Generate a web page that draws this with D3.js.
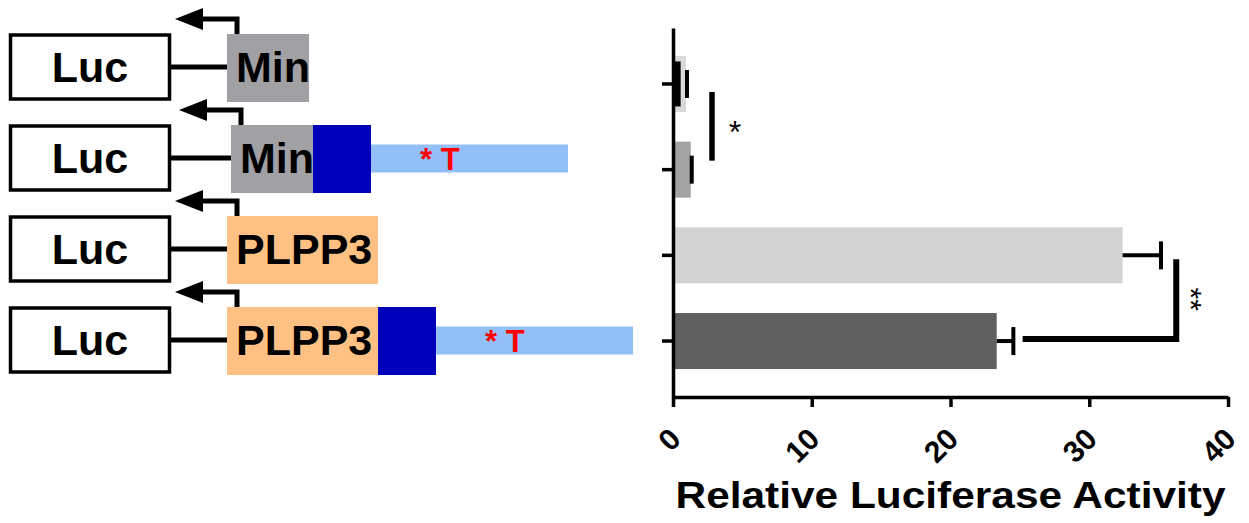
<!DOCTYPE html>
<html>
<head>
  <title>Relative Luciferase Activity</title>
  <script src="https://d3js.org/d3.v7.min.js"></script>
  <style>
    body { margin: 0; background: #fff; }
    text { font-family: "Liberation Sans", Arial, sans-serif; font-weight: bold; }
  </style>
</head>
<body>
<div id="chart"></div>
<script>
  // constructs, top to bottom
  const constructs = ["Min", "Min + element", "PLPP3", "PLPP3 + element"];
  const promoters = ["Min", "Min", "PLPP3", "PLPP3"];
  const hasElement = [false, true, false, true];
  const elementLabel = "* T";

  // relative luciferase activity (mean, upper error)
  const activity = [0.94, 1.28, 32.4, 23.33];
  const activityErr = [0.07, 0.07, 2.77, 1.2];
  const innerBar = [0.55, 0, 0, 0];
  const barColors = ["#d9d9d9", "#a3a3a3", "#d3d3d3", "#606060"];

  const xTicks = [0, 10, 20, 30, 40];

  // significance: pair of rows, x position, bracket start, stars
  const sigPairs = [[0, 1], [2, 3]];
  const sigX = [2.81, 36.27];
  const sigFrom = [null, 25.2];
  const sigStars = ["*", "**"];

  const width = 1249;
  const height = 523;
  const svg = d3.select("#chart")
          .append("svg")
          .attr("width", width)
          .attr("height", height);

  svg.append("rect").attr("width", width).attr("height", height).attr("fill", "#fff");

  // ---------- construct diagrams ----------
  const rowY = d3.scalePoint().domain(constructs).range([67, 340]);
  const promoterColor = { "Min": "#a1a1a5", "PLPP3": "#ffc183" };
  const promoterWidth = { "Min": 82, "PLPP3": 151 };

  const rows = svg.append("g").selectAll("g")
          .data(constructs)
          .join("g");

  rows.each(function (c, i) {
    const g = d3.select(this);
    const cy = rowY(c);
    const px = 227 + (i === 1 ? 4 : 0);
    const pw = promoterWidth[promoters[i]];

    g.append("line")
            .attr("x1", 170).attr("x2", px)
            .attr("y1", cy).attr("y2", cy)
            .attr("stroke", "#000").attr("stroke-width", 5);

    g.append("rect")
            .attr("x", 10.5).attr("y", cy - 32)
            .attr("width", 159).attr("height", 64)
            .attr("fill", "#fff").attr("stroke", "#000").attr("stroke-width", 3.5);

    g.append("text")
            .attr("x", 90).attr("y", cy + 14.5)
            .attr("text-anchor", "middle")
            .style("font-size", "43px")
            .text("Luc");

    // transcription start arrow
    g.append("path")
            .attr("d", `M${px + 10},${cy - 33}V${cy - 48}H${px - 26}`)
            .attr("fill", "none").attr("stroke", "#000").attr("stroke-width", 5);
    g.append("path")
            .attr("d", `M${px - 52},${cy - 48}L${px - 24},${cy - 59}L${px - 24},${cy - 37}Z`)
            .attr("fill", "#000");

    g.append("rect")
            .attr("x", px).attr("y", cy - 33)
            .attr("width", pw).attr("height", 68)
            .attr("fill", promoterColor[promoters[i]]);

    g.append("text")
            .attr("x", px + 9).attr("y", cy + 14.5)
            .style("font-size", "43px")
            .text(promoters[i]);

    if (hasElement[i]) {
      g.append("rect")
              .attr("x", px + pw).attr("y", cy - 33)
              .attr("width", 58).attr("height", 68)
              .attr("fill", "#0000bb");
      g.append("rect")
              .attr("x", px + pw + 58).attr("y", cy - 13.5)
              .attr("width", 197).attr("height", 28)
              .attr("fill", "#92bff7");
      g.append("text")
              .attr("x", px + pw + 58 + 49).attr("y", cy + 11.5)
              .attr("fill", "#ff0000")
              .style("font-size", "31px")
              .text(elementLabel);
    }
  });

  // ---------- bar chart ----------
  const x = d3.scaleLinear()
          .domain([0, 40])
          .range([673, 1228]);

  const y = d3.scaleBand()
          .domain(constructs)
          .range([28, 397])
          .paddingInner(0.346)
          .paddingOuter(0.326);

  const bw = y.bandwidth();

  svg.append("g").selectAll(".bar")
          .data(constructs)
          .join("rect")
          .attr("class", "bar")
          .attr("x", x(0))
          .attr("y", d => y(d))
          .attr("width", (d, i) => x(activity[i]) - x(0))
          .attr("height", bw)
          .attr("fill", (d, i) => barColors[i]);

  svg.append("g").selectAll(".inner")
          .data(constructs.filter((d, i) => innerBar[i] > 0))
          .join("rect")
          .attr("x", x(0))
          .attr("y", d => y(d) + (bw - 45) / 2)
          .attr("width", d => x(innerBar[constructs.indexOf(d)]) - x(0))
          .attr("height", 45)
          .attr("fill", "#000");

  const err = svg.append("g").attr("stroke", "#000").attr("stroke-width", 4);
  constructs.forEach((c, i) => {
    const cy = y(c) + bw / 2;
    err.append("line")
            .attr("x1", x(activity[i])).attr("x2", x(activity[i] + activityErr[i]))
            .attr("y1", cy).attr("y2", cy);
    err.append("line")
            .attr("x1", x(activity[i] + activityErr[i])).attr("x2", x(activity[i] + activityErr[i]))
            .attr("y1", cy - 14).attr("y2", cy + 14);
  });

  // axes
  svg.append("g")
          .attr("transform", `translate(${x(0)},0)`)
          .call(d3.axisLeft(y).tickSize(11).tickSizeOuter(0).tickFormat(""));

  const xAxis = svg.append("g")
          .attr("transform", "translate(0,397)")
          .call(d3.axisBottom(x).tickValues(xTicks).tickSize(10).tickSizeOuter(0));

  svg.selectAll(".domain, .tick line")
          .attr("stroke", "#000")
          .attr("stroke-width", 3.5);

  xAxis.selectAll(".tick text")
          .attr("x", null).attr("y", null).attr("dy", null)
          .attr("transform", "translate(9,44) rotate(-45)")
          .attr("text-anchor", "end")
          .attr("fill", "#000")
          .style("font-size", "30px")
          .style("font-family", "'Liberation Sans', Arial, sans-serif")
          .style("font-weight", "bold");

  svg.append("text")
          .attr("x", x(20))
          .attr("y", 508)
          .attr("text-anchor", "middle")
          .attr("textLength", 550)
          .attr("lengthAdjust", "spacingAndGlyphs")
          .style("font-size", "36px")
          .text("Relative Luciferase Activity");

  // significance marks
  sigPairs.forEach((p, k) => {
    const top = y(constructs[p[0]]) + bw / 2;
    const bottom = y(constructs[p[1]]) + bw / 2;
    const sx = x(sigX[k]);
    if (sigFrom[k] === null) {
      svg.append("line")
              .attr("x1", sx).attr("x2", sx)
              .attr("y1", top + 8).attr("y2", bottom - 9)
              .attr("stroke", "#000").attr("stroke-width", 5.5);
      svg.append("text")
              .attr("x", sx + 23).attr("y", (top + bottom) / 2 + 16)
              .attr("text-anchor", "middle")
              .style("font-size", "32px")
              .style("font-weight", "normal")
              .text(sigStars[k]);
    } else {
      svg.append("path")
              .attr("d", `M${x(sigFrom[k])},${bottom - 2}H${sx}V${top + 4}`)
              .attr("fill", "none")
              .attr("stroke", "#000").attr("stroke-width", 6);
      const my = (top + 4 + bottom - 2) / 2;
      svg.append("text")
              .attr("transform", `translate(${sx + 5},${my}) rotate(90)`)
              .attr("text-anchor", "middle")
              .style("font-size", "30px")
              .style("font-weight", "normal")
              .text(sigStars[k]);
    }
  });
</script>
</body>
</html>
